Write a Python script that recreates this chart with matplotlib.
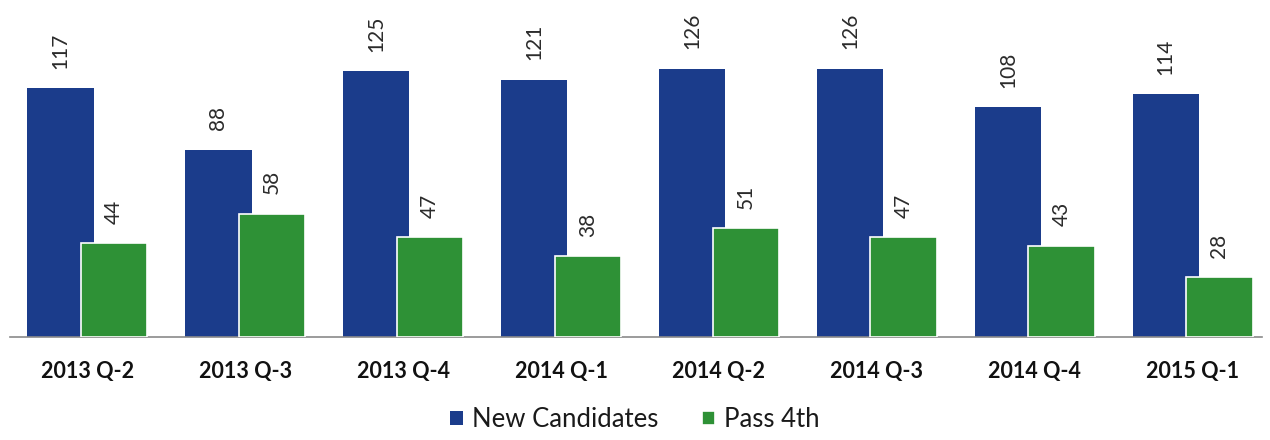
import matplotlib
matplotlib.use("Agg")
import matplotlib.pyplot as plt
import numpy as np

quarters = ['2013 Q-2', '2013 Q-3', '2013 Q-4', '2014 Q-1',
            '2014 Q-2', '2014 Q-3', '2014 Q-4', '2015 Q-1']
new_candidates = [117, 88, 125, 121, 126, 126, 108, 114]
pass_4th = [44, 58, 47, 38, 51, 47, 43, 28]

BLUE = '#1b3c8b'
GREEN = '#2e9136'

plt.rcParams['font.family'] = ['Lato', 'DejaVu Sans']

fig = plt.figure(figsize=(12.7, 4.4), dpi=100)
axes = fig.add_axes([10 / 1270, 103 / 440, 1252 / 1270, 337 / 440])

x = np.arange(len(quarters))
width = 0.42
offset = 0.17
bars_a = axes.bar(x - offset, new_candidates, width, color=BLUE,
                  label='New Candidates', zorder=2)
bars_b = axes.bar(x + offset, pass_4th, width, color=GREEN,
                  edgecolor='white', linewidth=1.2, label='Pass 4th', zorder=3)

for bars in (bars_a, bars_b):
    for bar in bars:
        axes.annotate(str(int(bar.get_height())),
                      (bar.get_x() + bar.get_width() / 2, bar.get_height()),
                      xytext=(0, 14), textcoords='offset points',
                      rotation=90, ha='center', va='bottom',
                      fontsize=15, color='#2b2b2b')

axes.set_xlim(-0.49, 7.44)
axes.set_ylim(0, 158.4)
axes.set_xticks(x)
axes.set_xticklabels(quarters, fontsize=15.5, fontweight='bold', color='#111111')
axes.tick_params(axis='x', length=0, pad=17)
axes.set_yticks([])
for side in ('top', 'left', 'right'):
    axes.spines[side].set_visible(False)
axes.spines['bottom'].set_color('#8a8a8a')
axes.spines['bottom'].set_linewidth(1.2)

fig.legend(loc='lower center', bbox_to_anchor=(0.5, -0.035), ncol=2,
           frameon=False, fontsize=18.5, handlelength=0.5, handleheight=0.5,
           handletextpad=0.35, columnspacing=1.7, labelcolor='#1a1a1a')

fig.savefig('out.png', dpi=100)
